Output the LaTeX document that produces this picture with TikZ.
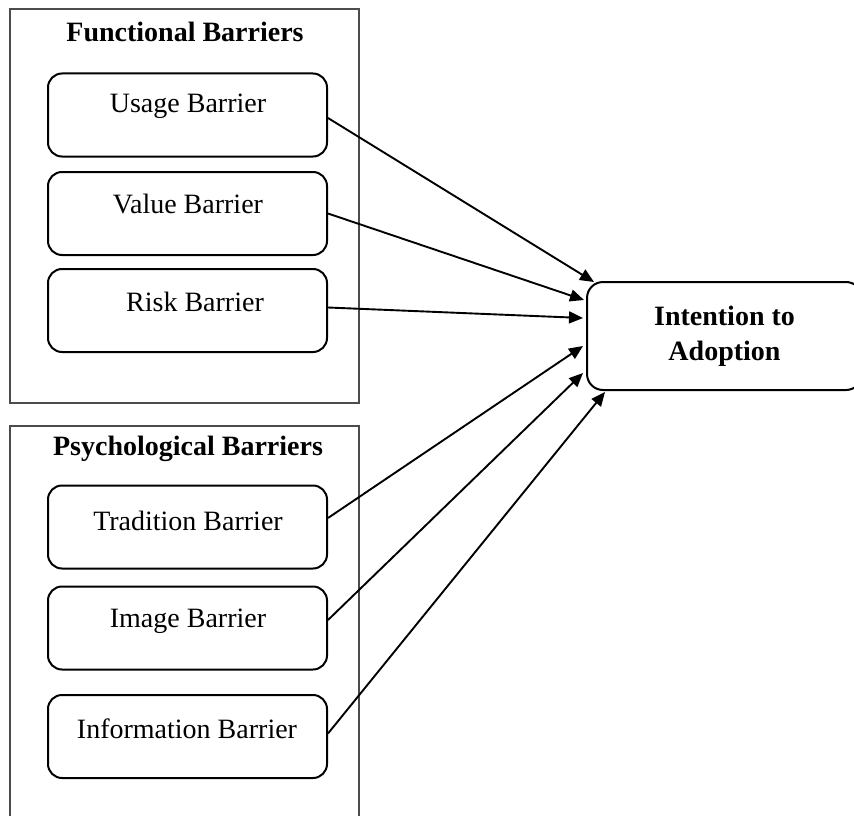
\documentclass[tikz,border=0pt]{standalone}
\usepackage{fontspec}
\setmainfont{Liberation Serif}
\usetikzlibrary{arrows.meta,calc}
\tikzset{
  group/.style={draw=black!70, line width=1.3pt},
  barrier/.style={draw=black, line width=2pt, rounded corners=14pt, minimum width=279pt, minimum height=83pt, inner sep=0pt},
  lbl/.style={font=\fontsize{28}{34}\selectfont, inner sep=0pt},
  ttl/.style={font=\fontsize{28}{34}\selectfont\bfseries, inner sep=0pt},
  target/.style={draw=black, line width=2pt, rounded corners=16pt, minimum width=275pt, minimum height=108pt, inner sep=0pt, align=center, font=\fontsize{28}{35}\selectfont\bfseries},
  conn/.style={draw=black, line width=1.9pt, -{Triangle[length=14pt,width=12pt]}}
}
\begin{document}
\begin{tikzpicture}[x=1pt,y=-1pt]
\useasboundingbox (0,0) rectangle (854,816);
% group frames
\draw[group] (10,9) rectangle (359,403);
\draw[group] (10,840) -- (10,426) -- (359,426) -- (359,840);
\node[ttl] (t1) at (185,32) {Functional Barriers};
\node[ttl] (t2) at (188,449) {Psychological Barriers};
% barrier boxes
\node[barrier] (u) at (187.5,115) {};
\node[barrier] (v) at (187.5,213.5) {};
\node[barrier] (r) at (187.5,310.5) {};
\node[barrier] (tr) at (187.5,527) {};
\node[barrier] (im) at (187.5,628) {};
\node[barrier] (inf) at (187.5,736.5) {};
\node[lbl] (ul) at (188,106) {Usage Barrier};
\node[lbl] (vl) at (188,204) {Value Barrier};
\node[lbl] (rl) at (195,302) {Risk Barrier};
\node[lbl] (trl) at (188,521) {Tradition Barrier};
\node[lbl] (iml) at (188,621) {Image Barrier};
\node[lbl] (infl) at (187,729) {Information Barrier};
% target
\node[target] (i) at (724.5,336) {Intention to\\Adoption};
% end points
\coordinate (eu) at ($(i.north west)+(8,1)$);
\coordinate (ev) at ($(i.west)+(-2,-36)$);
\coordinate (er) at ($(i.west)+(-3,-18)$);
\coordinate (etr) at ($(i.west)+(-3,10)$);
\coordinate (eim) at ($(i.west)+(-3,37)$);
\coordinate (einf) at ($(i.south west)+(19,1)$);
% connectors
\draw[conn] ([yshift=-3pt]u.east) -- (eu);
\draw[conn] (v.east) -- (ev);
\draw[conn] ([yshift=3pt]r.east) -- (er);
\draw[conn] ([yshift=9pt]tr.east) -- (etr);
\draw[conn] ([yshift=8pt]im.east) -- (eim);
\draw[conn] ([yshift=3pt]inf.east) -- (einf);
\end{tikzpicture}
\end{document}
